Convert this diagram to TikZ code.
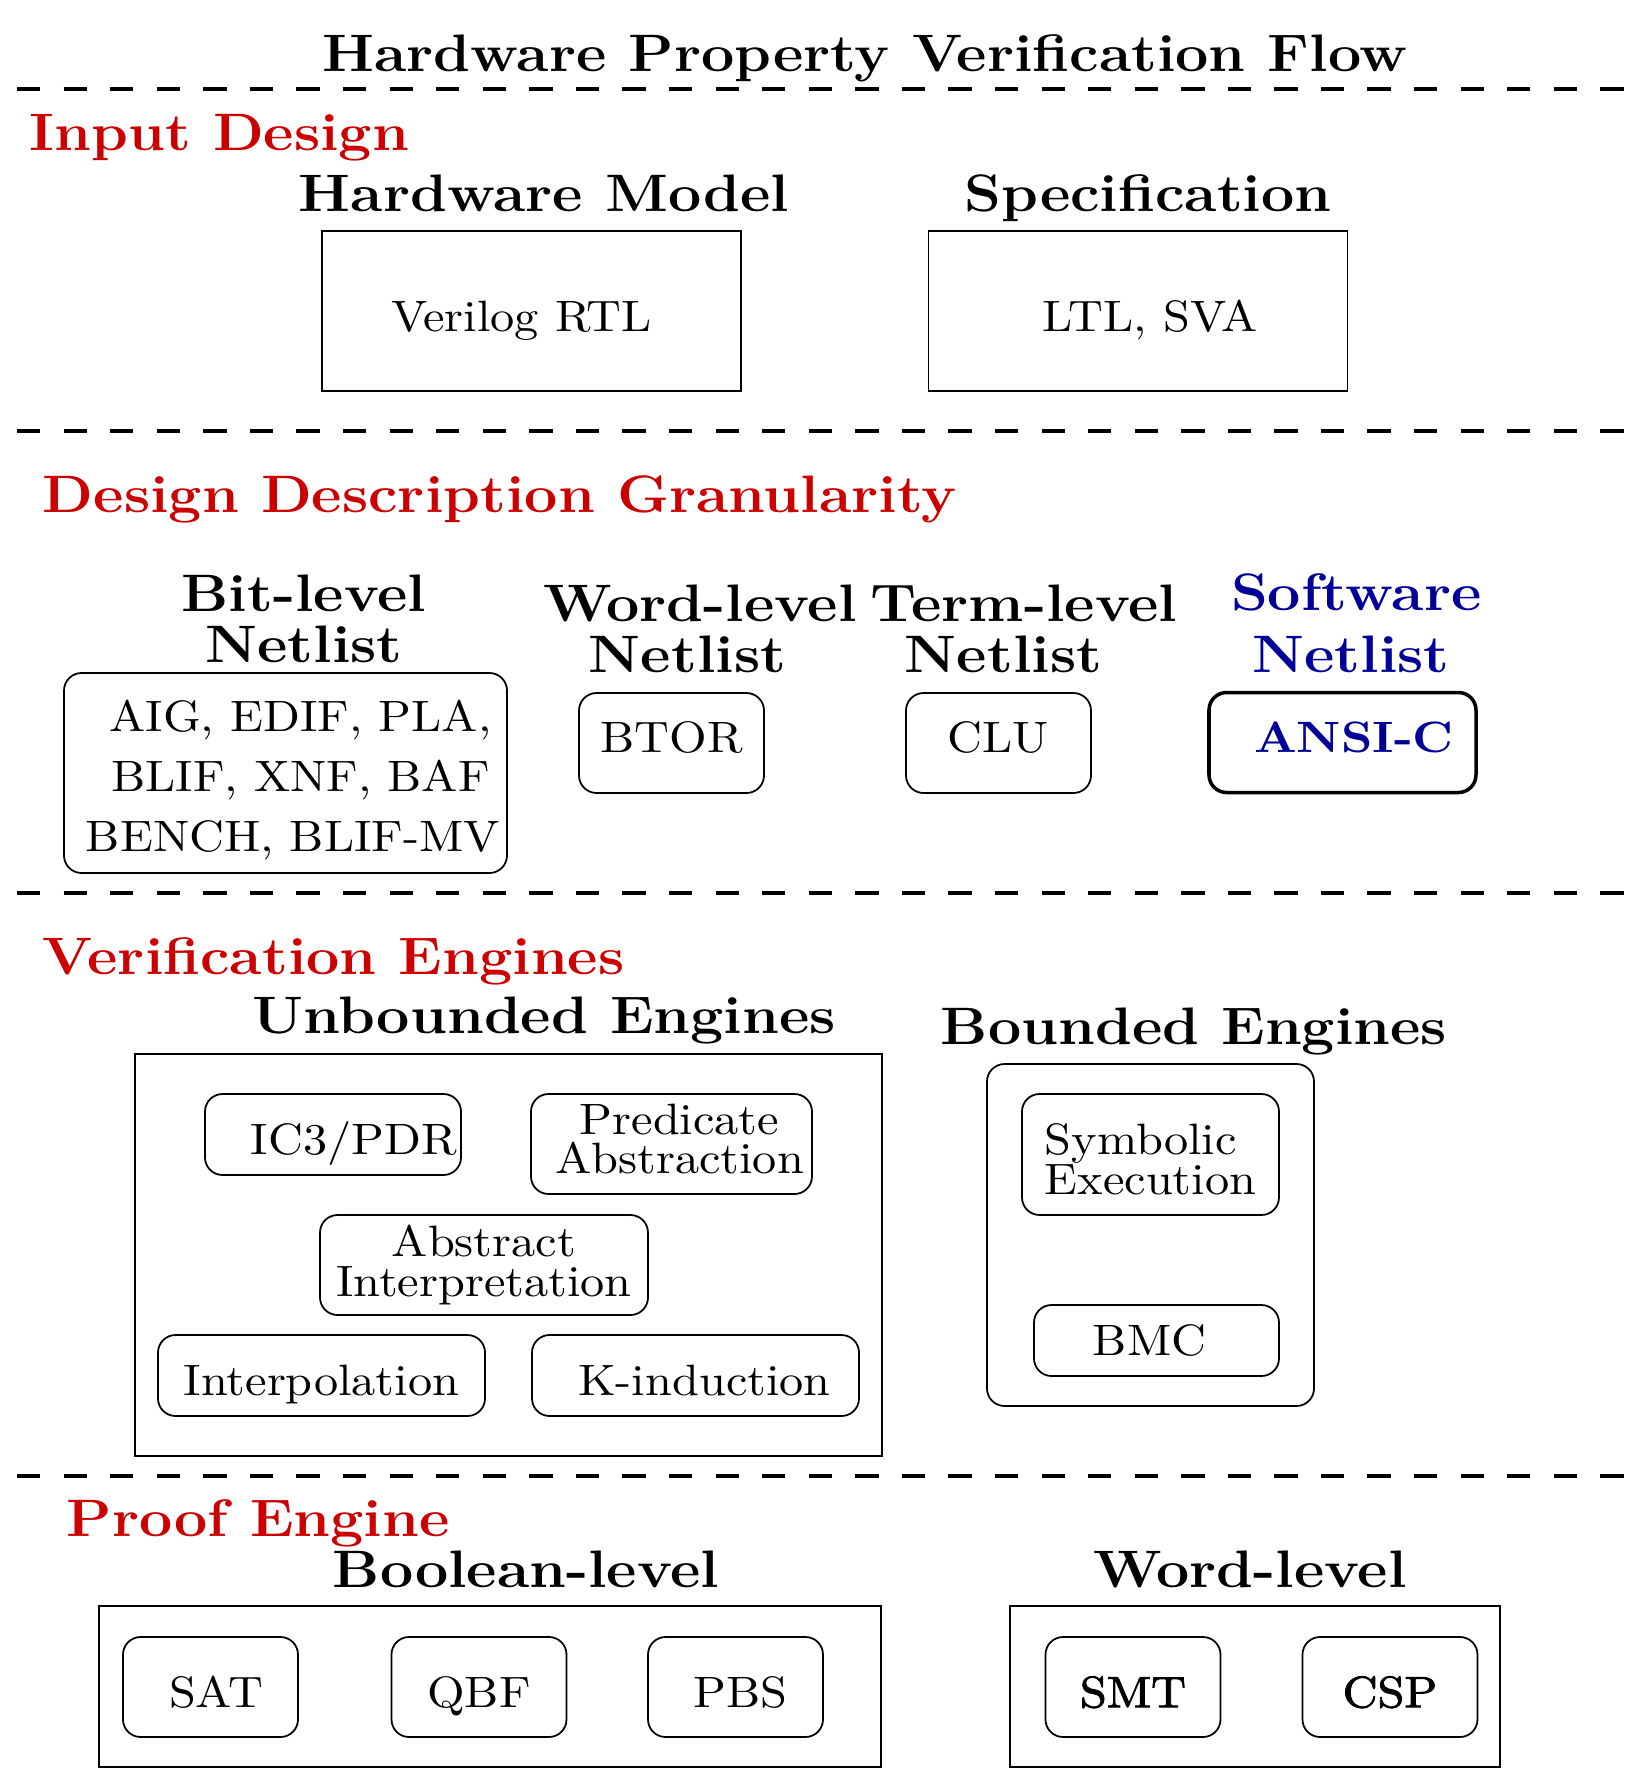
\documentclass[tikz,border=0pt]{standalone}
\usepackage{fontspec}
\setmainfont{Latin Modern Roman}[FakeStretch=1.1, BoldFeatures={FakeStretch=1.12}]
\newfontfamily\heavyrm{Latin Modern Roman}[FakeStretch=1.1, FakeBold=2]
\usepackage{xcolor}
\definecolor{secred}{RGB}{204,0,0}
\definecolor{swblue}{RGB}{0,0,153}

\begin{document}
\begin{tikzpicture}[
      hdr/.style={font=\large\bfseries, anchor=base, align=center},
      sec/.style={font=\large\bfseries, text=secred, anchor=base west, inner sep=0pt},
      sepline/.style={thick, dash pattern=on 5.3pt off 5.3pt},
      sqbox/.style={draw, inner sep=0pt, align=center},
      rbox/.style={draw, rounded corners, inner sep=0pt, align=center},
      lowtxt/.style={text height=9.2pt, text depth=0pt},
      midtxt/.style={},
      hitxt/.style={text depth=2.6pt}
    ]
    \useasboundingbox (0,0) rectangle (13.04,-14.256);
    \node[hdr] (title) at (6.92,-0.568) {Hardware Property Verification Flow};
    % separators between the stages
    \foreach \y [count=\k] in {-0.712,-3.448,-7.144,-11.808} {
      \coordinate (sepL\k) at (0.136,\y);
      \coordinate (sepR\k) at (13.04,\y);
      \draw[sepline] (sepL\k) -- (sepR\k);
    }
    \foreach \n/\x/\y/\txt in {secInput/0.23/-1.205/Input Design,secGran/0.336/-4.096/Design Description Granularity,secEng/0.336/-7.792/Verification Engines,secProof/0.528/-12.288/Proof Engine} {
      \node[sec] (\n) at (\x,\y) {\txt};
    }

    % input design
    \node[hdr] (hwHdr) at (4.352,-1.688) {Hardware Model};
    \node[hdr] (specHdr) at (9.184,-1.688) {Specification};
    \node[sqbox, lowtxt, minimum width=3.352cm, minimum height=1.28cm] (rtl) at (4.252,-2.488) {Verilog RTL\hspace*{0.16cm}};
    \node[sqbox, lowtxt, minimum width=3.352cm, minimum height=1.28cm] (ltl) at (9.104,-2.488) {\hspace*{0.192cm}LTL, SVA};

    % granularity
    \node[hdr] (bitHdr) at (2.432,-5.296) {Bit-level\\[-2.6pt]Netlist};
    \node[hdr] (wordHdr) at (5.6,-5.376) {Word-level\\[-2.6pt]Netlist\hspace*{0.2cm}};
    \node[hdr] (termHdr) at (8.192,-5.376) {Term-level\\[-2.6pt]Netlist\hspace*{0.328cm}};
    \node[hdr, text=swblue] (swHdr) at (10.85,-5.376) {Software\\Netlist\hspace*{0.08cm}};
    \node[rbox, text height=37.6pt, minimum width=3.544cm, minimum height=1.6cm] (bit) at (2.284,-6.184) {\hspace*{0.24cm}AIG, EDIF, PLA,\\[1.6pt]\hspace*{0.24cm}BLIF, XNF, BAF\\[1.6pt]\hspace*{0.12cm}BENCH, BLIF-MV};
    \foreach \n/\x/\txt in {btor/5.372/BTOR,clu/7.988/CLU} {
      \node[rbox, hitxt, minimum width=1.48cm, minimum height=0.8cm] (\n) at (\x,-5.944) {\txt};
    }
    \node[rbox, hitxt, thick, minimum width=2.136cm, minimum height=0.8cm, font=\bfseries, text=swblue] (ansic) at (10.74,-5.94) {\hspace*{0.184cm}ANSI-C};

    % verification engines
    \node[hdr] (unbHdr) at (4.352,-8.264) {Unbounded Engines};
    \node[hdr] (bndHdr) at (9.552,-8.352) {Bounded Engines};
    \node[sqbox, minimum width=5.976cm, minimum height=3.216cm] (unb) at (4.068,-10.04) {};
    \node[rbox, minimum width=2.616cm, minimum height=2.736cm] (bnd) at (9.204,-9.88) {};
    \foreach \n/\x/\y/\w/\h/\dx/\st/\txt in {ic3/2.664/-9.076/2.048/0.648/0.336cm/lowtxt/{IC3/PDR},absint/3.872/-10.12/2.624/0.8/0pt/midtxt/{Abstract\\[-3pt]Interpretation},itp/2.572/-11.004/2.616/0.648/0pt/lowtxt/Interpolation,kind/5.564/-11.004/2.616/0.648/0.144cm/lowtxt/K-induction,bmc/9.252/-10.724/1.96/0.568/-0.112cm/midtxt/BMC} {
      \node[rbox, \st, minimum width=\w cm, minimum height=\h cm] (\n) at (\x,\y) {\hspace*{\dx}\txt};
    }
    \node[rbox, text depth=2.5pt, minimum width=2.248cm, minimum height=0.8cm] (pred) at (5.372,-9.152) {\hspace*{0.128cm}Predicate\\[-3pt]\hspace*{0.128cm}Abstraction};
    \node[rbox, align=left, text height=18.1pt, text depth=0pt, minimum width=2.056cm, minimum height=0.968cm] (symex) at (9.204,-9.236) {Symbolic\\[-3pt]Execution};

    % proof engine
    \node[hdr] (boolHdr) at (4.208,-12.696) {Boolean-level};
    \node[hdr] (wlHdr) at (10.0,-12.696) {Word-level};
    \node[sqbox, minimum width=6.256cm, minimum height=1.288cm] (boolBox) at (3.92,-13.492) {};
    \node[sqbox, minimum width=3.92cm, minimum height=1.288cm] (wlBox) at (10.04,-13.492) {};
    \foreach \n/\x/\dx in {sat/1.684/0.088cm,qbf/3.832/0pt,pbs/5.884/0.08cm} {
      \node[rbox, lowtxt, minimum width=1.4cm, minimum height=0.8cm] (\n) at (\x,-13.496) {\hspace*{\dx}\MakeUppercase{\n}};
    }
    \foreach \n/\x/\txt in {smt/9.064/SMT,csp/11.12/CSP} {
      \node[rbox, lowtxt, minimum width=1.4cm, minimum height=0.8cm, font=\heavyrm] (\n) at (\x,-13.496) {\txt};
    }
  \end{tikzpicture}
\end{document}
